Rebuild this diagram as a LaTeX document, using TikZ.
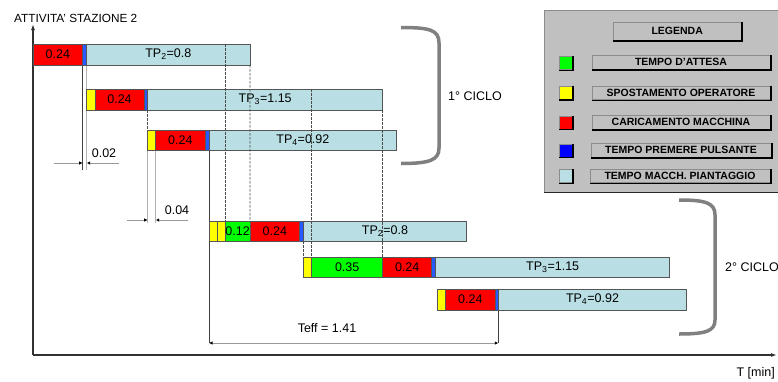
\documentclass[tikz,border=0pt]{standalone}
\usepackage{fontspec}
\setmainfont{Liberation Sans}
\usetikzlibrary{arrows.meta}
\definecolor{lb}{RGB}{185,223,228}
\definecolor{rd}{RGB}{255,0,0}
\definecolor{yl}{RGB}{255,255,0}
\definecolor{gr}{RGB}{0,255,0}
\definecolor{bl}{RGB}{40,90,255}
\definecolor{bord}{RGB}{85,85,85}
\definecolor{legbg}{RGB}{192,192,192}
\definecolor{brk}{RGB}{128,128,128}
\definecolor{axc}{RGB}{50,50,50}
\tikzset{
  segbox/.style={draw=bord, line width=0.8pt, inner sep=0pt, outer sep=0pt, anchor=north west, font=\fontsize{12.5}{14}\selectfont},
  dashv/.style={draw=black!70, line width=0.55pt, dash pattern=on 2.5pt off 1.5pt},
  extg/.style={draw=black!30, line width=1.3pt},
  extd/.style={draw=black!75, line width=0.7pt},
  dimln/.style={draw=black!40, line width=1pt, arrows={-{Latex[length=3.5pt,width=3.5pt,black]}}},
  txt/.style={font=\fontsize{12.5}{14}\selectfont, inner sep=0pt},
  brack/.style={draw=brk, line width=3.5pt},
  legbox/.style={fill=legbg, draw=black!45, line width=0.8pt, inner sep=0pt, font=\bfseries\fontsize{10.5}{12}\selectfont},
  legsq/.style={draw=black!45, line width=0.6pt, inner sep=0pt, minimum width=13pt, minimum height=13pt},
}
% name, x1, x2, y1, y2, colour, text
\newcommand\segm[7]{\node[segbox, fill=#6, minimum width={(#3-#2)*1pt}, minimum height={(#5-#4)*1pt}] (#1) at (#2,#4) {#7};}
\newcommand\shadowbox[1]{\draw[black, line width=1.3pt] ([xshift=0.6pt]#1.north east) -- ([xshift=0.6pt,yshift=-0.6pt]#1.south east) -- ([yshift=-0.6pt]#1.south west);}
\begin{document}
\begin{tikzpicture}[x=1pt,y=-1pt]
\useasboundingbox (0,0) rectangle (778,381);
% legend
\fill[legbg] (544,10) rectangle (780,192);
\draw[black!45, line width=1pt] (780,10) -- (544,10) -- (544,192);
\draw[black!85, line width=1.8pt] (544,192.5) -- (780,192.5);
\node[legbox, minimum width=127.7pt, minimum height=17.3pt] (lg) at (677.2,31.3) {LEGENDA};
\shadowbox{lg}
\node[legbox, minimum width=178pt, minimum height=13.3pt] (l1) at (681,62.3) {TEMPO D'ATTESA};
\node[legbox, minimum width=178pt, minimum height=13.3pt] (l2) at (681,92.6) {SPOSTAMENTO OPERATORE};
\node[legbox, minimum width=178pt, minimum height=13.3pt] (l3) at (681,122.3) {CARICAMENTO MACCHINA};
\node[legbox, minimum width=180pt, minimum height=13.3pt] (l4) at (681,150.3) {TEMPO PREMERE PULSANTE};
\node[legbox, minimum width=180pt, minimum height=13.3pt] (l5) at (680,176) {TEMPO MACCH. PIANTAGGIO};
\foreach \n in {l1,l2,l3,l4,l5} {\shadowbox{\n}}
\node[legsq, fill=gr] (s1) at (565.7,63) {};
\node[legsq, fill=yl] (s2) at (565.7,92.6) {};
\node[legsq, fill=rd] (s3) at (565.7,122.3) {};
\node[legsq, fill=blue] (s4) at (565.7,150.3) {};
\node[legsq, fill=lb] (s5) at (565.7,176) {};
\foreach \n in {s1,s2,s3,s4,s5} {\shadowbox{\n}}
% axes
\coordinate (o) at (33,355);
\coordinate (ytop) at (33,24);
\coordinate (xend) at (777,355);
\draw[axc, line width=1.6pt, -{Latex[length=6pt,width=4pt]}] (o) -- (ytop);
\draw[axc, line width=1.6pt, -{Latex[length=6pt,width=4pt]}] (o) -- (xend);
\node[txt, anchor=west, font=\fontsize{11.8}{13}\selectfont] (ytitle) at (14,18) {ATTIVITA' STAZIONE 2};
\node[txt, anchor=east] (xtitle) at (775,373) {T [min]};
% extension lines (behind bars)
\draw[extd] (82.7,65) -- (82.7,170);
\draw[extg] (86.7,65) -- (86.7,170);
\draw[extg] (147.7,150) -- (147.7,223);
\draw[extg] (155.7,150) -- (155.7,223);
\draw[extd] (209,150) -- (209,343);
\draw[extd] (498.3,310) -- (498.3,343);
% row 1
\segm{r1r}{33}{82.7}{44}{65}{rd}{0.24}
\segm{r1b}{82.7}{86.7}{44}{65}{bl}{}
\segm{r1l}{86.7}{250}{44}{65}{lb}{TP\textsubscript{2}=0.8}
% row 2
\segm{r2y}{86.7}{95}{89}{110}{yl}{}
\segm{r2r}{95}{144}{89}{110}{rd}{0.24}
\segm{r2b}{144}{147.7}{89}{110}{bl}{}
\segm{r2l}{147.7}{382.7}{89}{110}{lb}{TP\textsubscript{3}=1.15}
% row 3
\segm{r3y}{147.7}{155.7}{130}{150}{yl}{}
\segm{r3r}{155.7}{205}{130}{150}{rd}{0.24}
\segm{r3b}{205}{209}{130}{150}{bl}{}
\segm{r3l}{209}{396.7}{130}{150}{lb}{TP\textsubscript{4}=0.92}
% row 4
\segm{r4y}{209.3}{217.7}{221}{241}{yl}{}
\segm{r4z}{217.7}{225.3}{221}{241}{yl}{}
\segm{r4g}{225.3}{250}{221}{241}{gr}{0.12}
\segm{r4r}{250}{299.7}{221}{241}{rd}{0.24}
\segm{r4b}{299.7}{303.3}{221}{241}{bl}{}
\segm{r4l}{303.3}{466.7}{221}{241}{lb}{TP\textsubscript{2}=0.8}
% row 5
\segm{r5y}{303.3}{311.7}{257}{277}{yl}{}
\segm{r5g}{311.7}{382.7}{257}{277}{gr}{0.35}
\segm{r5r}{382.7}{431.7}{257}{277}{rd}{0.24}
\segm{r5b}{431.7}{435.7}{257}{277}{bl}{}
\segm{r5l}{435.7}{669.7}{257}{277}{lb}{TP\textsubscript{3}=1.15}
% row 6
\segm{r6y}{437.3}{445.7}{289}{310}{yl}{}
\segm{r6r}{445.7}{495}{289}{310}{rd}{0.24}
\segm{r6b}{495}{498.3}{289}{310}{bl}{}
\segm{r6l}{498.3}{686.7}{289}{310}{lb}{TP\textsubscript{4}=0.92}
% dashed guide lines
\draw[dashv] (225.3,44) -- (r4g.north west);
\draw[dashv] (r1l.south east) -- (r4r.north west);
\draw[dashv] (311.7,89) -- (r5g.north west);
\draw[dashv] (r2l.south east) -- (r5r.north west);
\draw[dashv] (r2l.south west) -- (r3y.north west);
\draw[dashv] (r4l.south west) -- (r5y.north west);
% dimensions
\coordinate (d1a) at (54,163); \coordinate (d1b) at (119,163);
\draw[dimln] (d1a) -- (82.7,163);
\draw[dimln] (d1b) -- (86.7,163);
\node[txt] (d1t) at (104,153) {0.02};
\coordinate (d2a) at (127,220); \coordinate (d2b) at (188,220);
\draw[dimln] (d2a) -- (147.7,220);
\draw[dimln] (d2b) -- (155.7,220);
\node[txt] (d2t) at (177,210) {0.04};
\coordinate (ta) at (209,343); \coordinate (tb) at (498.3,343);
\draw[draw=black!40, line width=1pt, {Latex[length=3.5pt,width=3.5pt,black]}-{Latex[length=3.5pt,width=3.5pt,black]}] (ta) -- (tb);
\node[txt] (teff) at (327,328) {Teff = 1.41};
% brackets
\draw[brack] (401,27.5) .. controls (430,27.5) and (439,30) .. (439,43) -- (439,148) .. controls (439,160) and (430,163.5) .. (401,163.5);
\node[txt, anchor=west] (c1) at (448,96) {1° CICLO};
\draw[brack] (679,200) .. controls (706,200) and (715,203) .. (715,215) -- (715,320) .. controls (715,331) and (706,334) .. (679,334);
\node[txt, anchor=west] (c2) at (725,267) {2° CICLO};
\end{tikzpicture}
\end{document}
